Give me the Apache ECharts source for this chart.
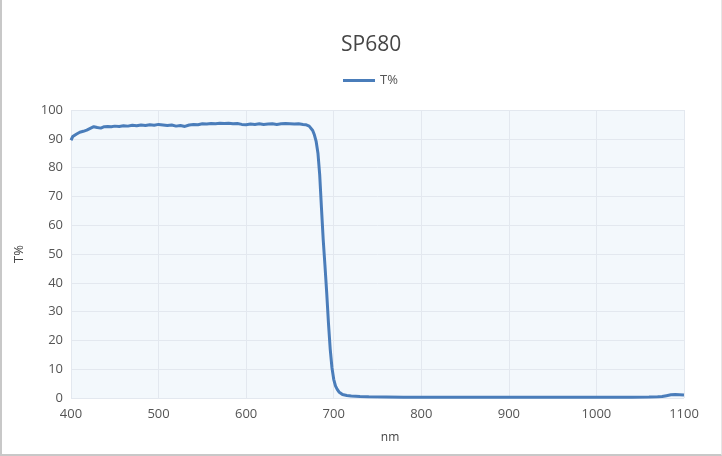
<!DOCTYPE html>
<html>
<head>
<meta charset="utf-8">
<script src="https://cdn.jsdelivr.net/npm/echarts@6/dist/echarts.min.js"></script>
<style>
  html, body { margin: 0; padding: 0; background: #fff; }
  #wrap { position: absolute; left: 0; top: 0; width: 722px; height: 456px; box-sizing: border-box;
          border-left: 2px solid #c8c8c8; border-bottom: 2px solid #c8c8c8; border-right: 1px solid #e6e6e6; }
  #chart { width: 100%; height: 100%; }
</style>
</head>
<body>
<div id="wrap"><div id="chart"></div></div>
<script>
var chartTitle = 'SP680';
var seriesName = 'T%';
var xAxisName = 'nm';
var yAxisName = 'T%';

var wavelengths = [
  400, 402, 404, 406, 408, 410, 414, 418, 422, 426, 430, 434, 438, 442, 446, 450,
  455, 460, 465, 470, 475, 480, 485, 490, 495, 500, 505, 510, 515, 520, 525, 530,
  535, 540, 545, 550, 555, 560, 565, 570, 575, 580, 585, 590, 595, 600, 605, 610,
  615, 620, 625, 630, 635, 640, 645, 650, 655, 660, 665, 668, 670, 672, 674, 676,
  678, 680, 682, 684, 686, 688, 690, 692, 694, 696, 698, 700, 702, 704, 706, 708,
  710, 715, 720, 730, 740, 760, 780, 800, 820, 840, 860, 880, 900, 920, 940, 960,
  980, 1000, 1020, 1040, 1060, 1070, 1075, 1080, 1085, 1090, 1095, 1100
];
var transmission = [
  89.5, 90.8, 91.3, 91.6, 92.0, 92.3, 92.6, 93.0, 93.6, 94.2, 93.9, 93.7, 94.2, 94.3, 94.2, 94.4,
  94.3, 94.5, 94.4, 94.7, 94.5, 94.8, 94.6, 94.9, 94.7, 95.0, 94.8, 94.6, 94.8, 94.4, 94.6, 94.3,
  94.8, 95.0, 94.9, 95.2, 95.1, 95.3, 95.2, 95.4, 95.3, 95.4, 95.2, 95.3, 95.0, 94.9, 95.1, 95.0,
  95.2, 95.0, 95.1, 95.2, 95.0, 95.2, 95.3, 95.2, 95.1, 95.2, 95.0, 94.9, 94.8, 94.4, 93.8, 92.9,
  91.3, 89.0, 85.0, 77.5, 66.0, 55.0, 46.0, 36.5, 26.0, 17.0, 10.5, 6.5, 4.2, 3.0, 2.1, 1.6,
  1.2, 0.9, 0.7, 0.5, 0.4, 0.35, 0.3, 0.3, 0.3, 0.3, 0.3, 0.3, 0.3, 0.3, 0.3, 0.3,
  0.3, 0.3, 0.3, 0.3, 0.35, 0.4, 0.5, 0.8, 1.1, 1.2, 1.1, 1.0
];

var seriesData = wavelengths.map(function (w, i) { return [w, transmission[i]]; });

var chart = echarts.init(document.getElementById('chart'));
var fontFam = '"Open Sans", "Noto Sans", sans-serif';
chart.setOption({
  animation: false,
  textStyle: { fontFamily: fontFam },
  title: {
    text: chartTitle,
    left: 334,
    top: 30,
    textStyle: { fontSize: 21, fontWeight: 'normal', color: '#464646', fontFamily: fontFam }
  },
  legend: {
    top: 69,
    left: 336,
    itemWidth: 32,
    itemHeight: 14,
    itemGap: 6,
    textStyle: { color: '#555', fontSize: 13, fontFamily: fontFam },
    data: [{ name: seriesName, icon: 'path://M0,6 L32,6 L32,9 L0,9 Z' }]
  },
  grid: {
    left: 69,
    right: 37,
    top: 110,
    bottom: 56,
    show: true,
    backgroundColor: '#f3f8fc',
    borderWidth: 0
  },
  xAxis: {
    type: 'value',
    min: 400,
    max: 1100,
    interval: 100,
    name: xAxisName,
    nameLocation: 'middle',
    nameGap: 34,
    nameTextStyle: { color: '#444', fontSize: 12, padding: [0, 0, 0, 25] },
    axisLine: { show: false },
    axisTick: { show: false },
    axisLabel: { color: '#555', fontSize: 13, margin: 10, formatter: function (v) { return String(v); } },
    splitLine: { show: true, lineStyle: { color: '#e3e8ef' } }
  },
  yAxis: {
    type: 'value',
    min: 0,
    max: 100,
    interval: 10,
    name: yAxisName,
    nameLocation: 'middle',
    nameGap: 45,
    nameTextStyle: { color: '#444', fontSize: 13 },
    axisLine: { show: false },
    axisTick: { show: false },
    axisLabel: { color: '#555', fontSize: 13, margin: 8 },
    splitLine: { show: true, lineStyle: { color: '#e3e8ef' } }
  },
  series: [{
    name: seriesName,
    type: 'line',
    data: seriesData,
    showSymbol: false,
    smooth: false,
    lineStyle: { color: '#4a7dba', width: 3 },
    itemStyle: { color: '#4a7dba' }
  }]
});
</script>
</body>
</html>
